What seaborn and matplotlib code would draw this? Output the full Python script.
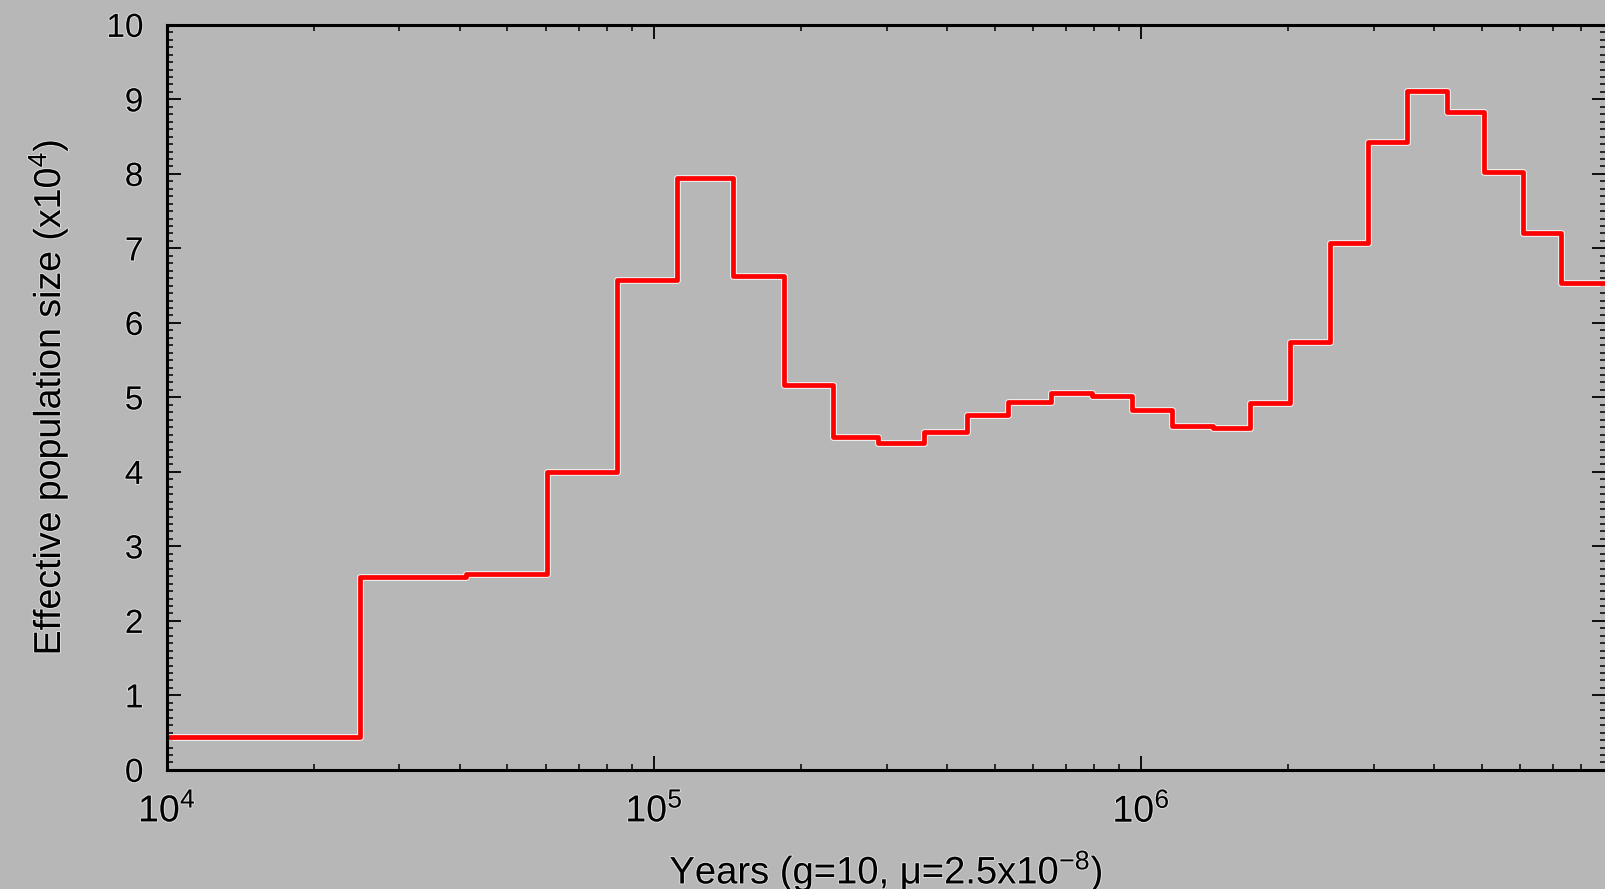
import matplotlib
matplotlib.use("Agg")
import matplotlib.pyplot as plt
import matplotlib.patheffects as pe
from matplotlib.ticker import MultipleLocator, LogLocator, NullFormatter
import seaborn as sns
import pandas as pd

# step start times (years) and Ne (x10^4) for each step
years = [1.0e4, 2.49e4, 4.11e4, 6.03e4, 8.40e4, 1.115e5, 1.453e5, 1.849e5,
         2.332e5, 2.884e5, 3.585e5, 4.393e5, 5.334e5, 6.535e5, 7.932e5,
         9.583e5, 1.158e6, 1.405e6, 1.674e6, 2.023e6, 2.444e6, 2.925e6,
         3.517e6, 4.249e6, 5.062e6, 6.085e6, 7.287e6, 1.0e7]
ne = [0.44, 2.59, 2.63, 4.00, 6.58, 7.95, 6.63, 5.17,
      4.47, 4.39, 4.54, 4.77, 4.94, 5.06, 5.02,
      4.83, 4.62, 4.59, 4.93, 5.74, 7.07, 8.43,
      9.11, 8.83, 8.03, 7.21, 6.54, 6.54]

bg = "#b7b7b8"

sns.set_theme(style="ticks")
plt.rcParams["font.family"] = ["Liberation Sans", "DejaVu Sans"]
plt.rcParams["mathtext.fontset"] = "custom"
plt.rcParams["mathtext.rm"] = "Liberation Sans"
plt.rcParams["mathtext.it"] = "Liberation Sans:italic"
plt.rcParams["mathtext.bf"] = "Liberation Sans:bold"
plt.rcParams["text.color"] = "black"
plt.rcParams["axes.labelcolor"] = "black"
plt.rcParams["xtick.color"] = "black"
plt.rcParams["ytick.color"] = "black"

df = pd.DataFrame({"years": years, "ne": ne})

fig = plt.figure(figsize=(16.06, 8.89), dpi=100, facecolor=bg)
ax = fig.add_axes([0.104, 0.134, 0.896, 0.838])
ax.set_facecolor(bg)

sns.lineplot(data=df, x="years", y="ne", ax=ax, drawstyle="steps-post",
             estimator=None, color="#ff0000", linewidth=3.4,
             path_effects=[pe.Stroke(linewidth=5.0, foreground="white", alpha=0.75),
                           pe.Normal()])

ax.set_xscale("log")
ax.set_xlim(1e4, 9.0e6)
ax.set_ylim(0, 10)
ax.yaxis.set_major_locator(MultipleLocator(1))
ax.yaxis.set_minor_locator(MultipleLocator(0.1))
ax.xaxis.set_minor_locator(LogLocator(base=10, subs=range(2, 10)))
ax.xaxis.set_minor_formatter(NullFormatter())

for side in ["left", "bottom", "top"]:
    ax.spines[side].set_linewidth(2.2)
    ax.spines[side].set_color("black")
ax.spines["right"].set_visible(False)

ax.tick_params(which="both", direction="in", top=True, right=True, color="black")
ax.tick_params(which="major", length=10, width=1.3)
ax.tick_params(which="minor", length=4.5, width=1.1)
ax.tick_params(axis="x", which="major", labelsize=27, pad=16)
ax.tick_params(axis="y", which="major", labelsize=24, pad=17)

halo = [pe.withStroke(linewidth=1.5, foreground="white", alpha=0.5)]
for lab in ax.get_xticklabels() + ax.get_yticklabels():
    lab.set_path_effects(halo)

ax.set_xlabel(r"Years (g=10, μ=2.5x10$^{-8}$)", fontsize=27.5, labelpad=13,
              path_effects=halo)
ax.set_ylabel(r"Effective population size (x10$^{4}$)", fontsize=27, labelpad=26,
              path_effects=halo)

fig.savefig("out.png", dpi=100, facecolor=bg)
